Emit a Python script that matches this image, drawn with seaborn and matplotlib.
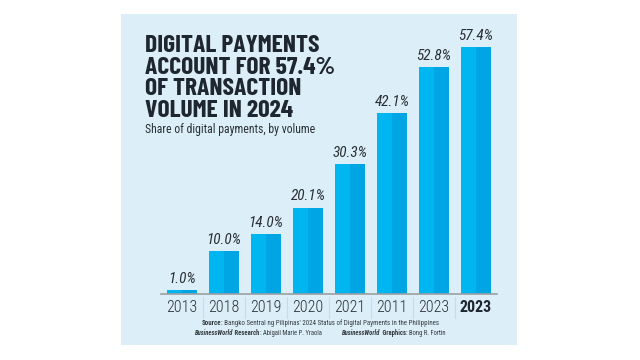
import pandas as pd
import seaborn as sns
import matplotlib.pyplot as plt
from matplotlib import font_manager
from matplotlib.patches import Rectangle

# data
years = ["2013", "2018", "2019", "2020", "2021", "2011", "2023", "2023 "]
year_labels = ["2013", "2018", "2019", "2020", "2021", "2011", "2023", "2023"]
share = [1.0, 10.0, 14.0, 20.1, 30.3, 42.1, 52.8, 57.4]
share_labels = ["1.0%", "10.0%", "14.0%", "20.1%", "30.3%", "42.1%", "52.8%", "57.4%"]

title_lines = ["DIGITAL PAYMENTS", "ACCOUNT FOR 57.4%", "OF TRANSACTION", "VOLUME IN 2024"]
subtitle = "Share of digital payments, by volume"

PANEL = "#dceef8"
LIGHT = "#00b6f1"
DARK = "#00a5e3"
INK = "#1e2630"

names = {f.name for f in font_manager.fontManager.ttflist}
prefs = ["Roboto Condensed", "Barlow Semi Condensed", "Fira Sans Condensed",
         "Archivo Narrow", "PT Sans Narrow", "Liberation Sans Narrow", "Roboto"]
NARROW = next((n for n in prefs if n in names), "DejaVu Sans")
title_prefs = ["Barlow Condensed", "Roboto Condensed", "Fira Sans Condensed"]
TITLE_FONT = next((n for n in title_prefs if n in names), NARROW)

sns.set_theme(style="white")
plt.rcParams["font.family"] = [NARROW, "DejaVu Sans"]

# two halves of each bar -> two-tone look
df = pd.DataFrame({
    "year": years * 2,
    "share": share * 2,
    "half": ["a"] * len(years) + ["b"] * len(years),
})

fig = plt.figure(figsize=(6.4, 3.6), dpi=100)
fig.patch.set_facecolor("white")
fig.patches.append(Rectangle((121 / 640, 1 - 345 / 360), 396 / 640, 331 / 360,
                             transform=fig.transFigure, facecolor=PANEL,
                             edgecolor="none", zorder=-10))

ax = fig.add_axes([161 / 640, 1 - 294 / 360, 336 / 640, 254 / 360])
ax.set_zorder(5)
ax.set_facecolor("none")
sns.barplot(data=df, x="year", y="share", hue="half", order=years,
            palette=[LIGHT, DARK], width=0.72, gap=0, dodge=True,
            legend=False, saturation=1, ax=ax)
for p in ax.patches:
    p.set_edgecolor("none")

ax.set_xlim(-0.5, len(years) - 0.5)
ax.set_ylim(0, 59.1)
ax.set_xlabel("")
ax.set_ylabel("")
ax.set_yticks([])
for s in ["top", "right", "left"]:
    ax.spines[s].set_visible(False)
ax.spines["bottom"].set_color("#9a9fa4")
ax.spines["bottom"].set_linewidth(1.2)

ax.set_xticks(range(len(years)))
ax.set_xticklabels(year_labels, fontsize=11.5, color="#2c3137", fontweight="light")
ax.tick_params(axis="x", length=0, pad=4)
ax.get_xticklabels()[-1].set_fontweight("bold")
ax.get_xticklabels()[-1].set_color(INK)

# faint separators between year labels
trans = ax.get_xaxis_transform()
for i in range(1, len(years)):
    ax.plot([i - 0.5, i - 0.5], [-0.01, -0.095], transform=trans,
            color="#c9dbe6", lw=0.8, clip_on=False)

for i, (v, lab) in enumerate(zip(share, share_labels)):
    ax.annotate(lab, (i, v), xytext=(0, 3), textcoords="offset points",
                ha="center", va="bottom", fontsize=11, style="italic",
                color="#2a2f35")

fig.canvas.draw()
R = fig.canvas.get_renderer()


def fit(t, width_px):
    # scale a text so it spans the width seen in the reference
    w = t.get_window_extent(renderer=R).width
    t.set_fontsize(t.get_fontsize() * width_px / w)
    return t


# title block
for k, line in enumerate(title_lines):
    t = fig.text(145 / 640, 1 - (52 + 21.7 * k) / 360, line, fontsize=20,
                 fontweight="bold", color=INK, ha="left", va="baseline",
                 family=[TITLE_FONT, "DejaVu Sans"])
    if k == 0:
        fit(t, 174)
        tsize = t.get_fontsize()
    else:
        t.set_fontsize(tsize)
sub = fig.text(145 / 640, 1 - 133 / 360, subtitle, fontsize=10, color="#2a2f35",
               ha="left", va="baseline")
fit(sub, 170)


def run_text(y, parts, width_px, center=320, size=6):
    # draw text pieces one after another on a centred line
    objs = []
    for txt, kw in parts:
        objs.append(fig.text(0, y, txt, fontsize=size, color="#333a40",
                             ha="left", va="baseline", **kw))
    widths = [o.get_window_extent(renderer=R).width for o in objs]
    scale = width_px / sum(widths)
    for o in objs:
        o.set_fontsize(size * scale)
    widths = [o.get_window_extent(renderer=R).width for o in objs]
    x = center - sum(widths) / 2
    for o, w in zip(objs, widths):
        o.set_x(x / 640)
        x += w


run_text(1 - 325 / 360, [
    ("Source", {"fontweight": "bold"}),
    (": Bangko Sentral ng Pilipinas' 2024 Status of Digital Payments in the Philippines", {}),
], 234)
run_text(1 - 335 / 360, [
    ("BusinessWorld", {"fontweight": "bold", "style": "italic"}),
    (" Research", {"fontweight": "bold"}),
    (": Abigail Marie P. Yraola", {}),
    ("              ", {}),
    ("BusinessWorld", {"fontweight": "bold", "style": "italic"}),
    (" Graphics", {"fontweight": "bold"}),
    (": Bong R. Fortin", {}),
], 251)

fig.savefig("out.png", dpi=100)
